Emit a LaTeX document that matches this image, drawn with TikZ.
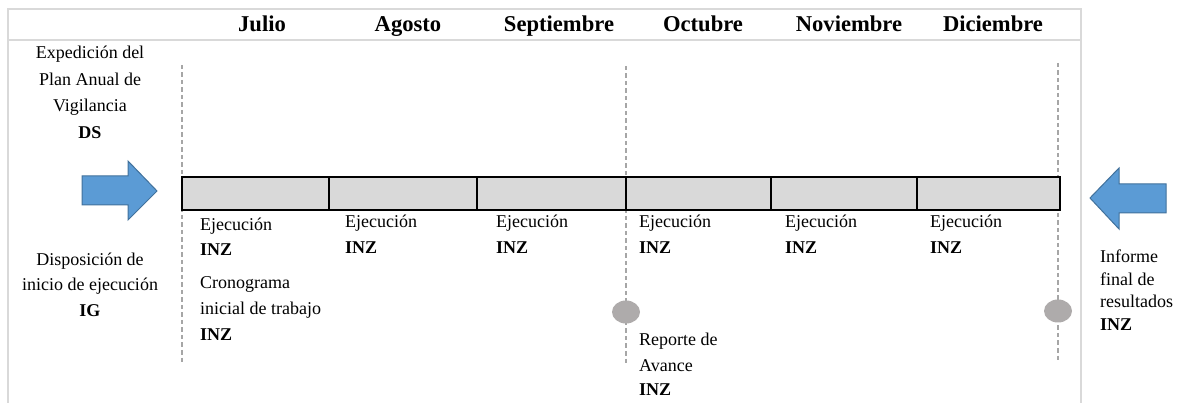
\documentclass[tikz,border=0pt]{standalone}
\usepackage{fontspec}
\setmainfont{LiberationSerif}[Extension=.ttf,UprightFont=*-Regular,BoldFont=*-Bold,ItalicFont=*-Italic,BoldItalicFont=*-BoldItalic]
\usetikzlibrary{shapes.geometric}
\definecolor{arrowfill}{HTML}{5B9BD5}
\definecolor{arrowline}{HTML}{41719C}
\definecolor{framegray}{HTML}{D9D9D9}
\definecolor{guidegray}{HTML}{A6A6A6}
\definecolor{dotgray}{HTML}{AEABAB}
\begin{document}
\begin{tikzpicture}[x=1pt,y=-1pt,
  frame/.style={draw=framegray,line width=1.4pt},
  guide/.style={draw=guidegray,line width=1.4pt,dash pattern=on 4.5pt off 3pt},
  barcell/.style={draw=black,line width=2.6pt,fill=framegray},
  bigarrow/.style={fill=arrowfill,draw=arrowline,line width=1pt},
  milestone/.style={fill=dotgray,draw=none,ellipse,minimum width=28pt,minimum height=23pt,inner sep=0pt},
  month/.style={anchor=base,inner sep=0pt,font=\fontsize{22.6}{26}\selectfont\bfseries},
  lbl/.style={anchor=base west,inner sep=0pt,font=\fontsize{18}{25}\selectfont},
  clbl/.style={anchor=base,inner sep=0pt,font=\fontsize{18}{25}\selectfont}]
\useasboundingbox (0,0) rectangle (1181,403);
% frame
\draw[frame] (8,403) -- (8,9) -- (1081,9) -- (1081,403);
\draw[frame] (8,40) -- (1081,40);
% months
\node[month] (m1) at (262,32) {Julio};
\node[month] (m2) at (408,32) {Agosto};
\node[month] (m3) at (559,32) {Septiembre};
\node[month] (m4) at (703,32) {Octubre};
\node[month] (m5) at (849,32) {Noviembre};
\node[month] (m6) at (993,32) {Diciembre};
% guides
\coordinate (g1t) at (182,65); \coordinate (g1b) at (182,363);
\coordinate (g2t) at (626,66); \coordinate (g2b) at (626,363);
\coordinate (g3t) at (1058,63); \coordinate (g3b) at (1058,360);
\draw[guide] (g1t) -- (g1b);
\draw[guide] (g2t) -- (g2b);
\draw[guide] (g3t) -- (g3b);
% bar
\foreach \a/\b [count=\i] in {182/329,329/477,477/626,626/771,771/917,917/1060}
  \draw[barcell] (\a,177) rectangle (\b,210);
% milestones
\node[milestone] (c1) at (626,312) {};
\node[milestone] (c2) at (1058,311) {};
% arrows
\draw[bigarrow] (82,176) -- (128,176) -- (128,161) -- (157,191) -- (128,220) -- (128,205) -- (82,205) -- cycle;
\draw[bigarrow] (1166,184) -- (1119,184) -- (1119,168) -- (1090,198) -- (1119,229) -- (1119,213) -- (1166,213) -- cycle;
% left texts
\node[clbl] (t1) at (90,59) {\begin{tabular}[t]{@{}c@{}}Expedición del\\[1.5pt] Plan Anual de\\[1.5pt] Vigilancia\\[1.5pt] \textbf{DS}\end{tabular}};
\node[clbl] (t2) at (90,266) {\begin{tabular}[t]{@{}c@{}}Disposición de\\ inicio de ejecución\\[1pt] \textbf{IG}\end{tabular}};
% column texts
\node[lbl] (e1) at (200,231) {\begin{tabular}[t]{@{}l@{}}Ejecución\\ \textbf{INZ}\end{tabular}};
\node[lbl] (cr) at (200,289) {\begin{tabular}[t]{@{}l@{}}Cronograma\\[1pt] inicial de trabajo\\[1pt] \textbf{INZ}\end{tabular}};
\node[lbl] (e2) at (345,228) {\begin{tabular}[t]{@{}l@{}}Ejecución\\[1pt] \textbf{INZ}\end{tabular}};
\node[lbl] (e3) at (496,228) {\begin{tabular}[t]{@{}l@{}}Ejecución\\[1pt] \textbf{INZ}\end{tabular}};
\node[lbl] (e4) at (639,228) {\begin{tabular}[t]{@{}l@{}}Ejecución\\[1pt] \textbf{INZ}\end{tabular}};
\node[lbl] (e5) at (785,228) {\begin{tabular}[t]{@{}l@{}}Ejecución\\[1pt] \textbf{INZ}\end{tabular}};
\node[lbl] (e6) at (930,228) {\begin{tabular}[t]{@{}l@{}}Ejecución\\[1pt] \textbf{INZ}\end{tabular}};
\node[lbl] (rp) at (639,345) {\begin{tabular}[t]{@{}l@{}}Reporte de\\[1pt] Avance\\ \textbf{INZ}\end{tabular}};
\node[lbl,font=\fontsize{18}{22.5}\selectfont] (inf) at (1100,263) {\begin{tabular}[t]{@{}l@{}}Informe\\ final de\\ resultados\\ \textbf{INZ}\end{tabular}};
\end{tikzpicture}
\end{document}
